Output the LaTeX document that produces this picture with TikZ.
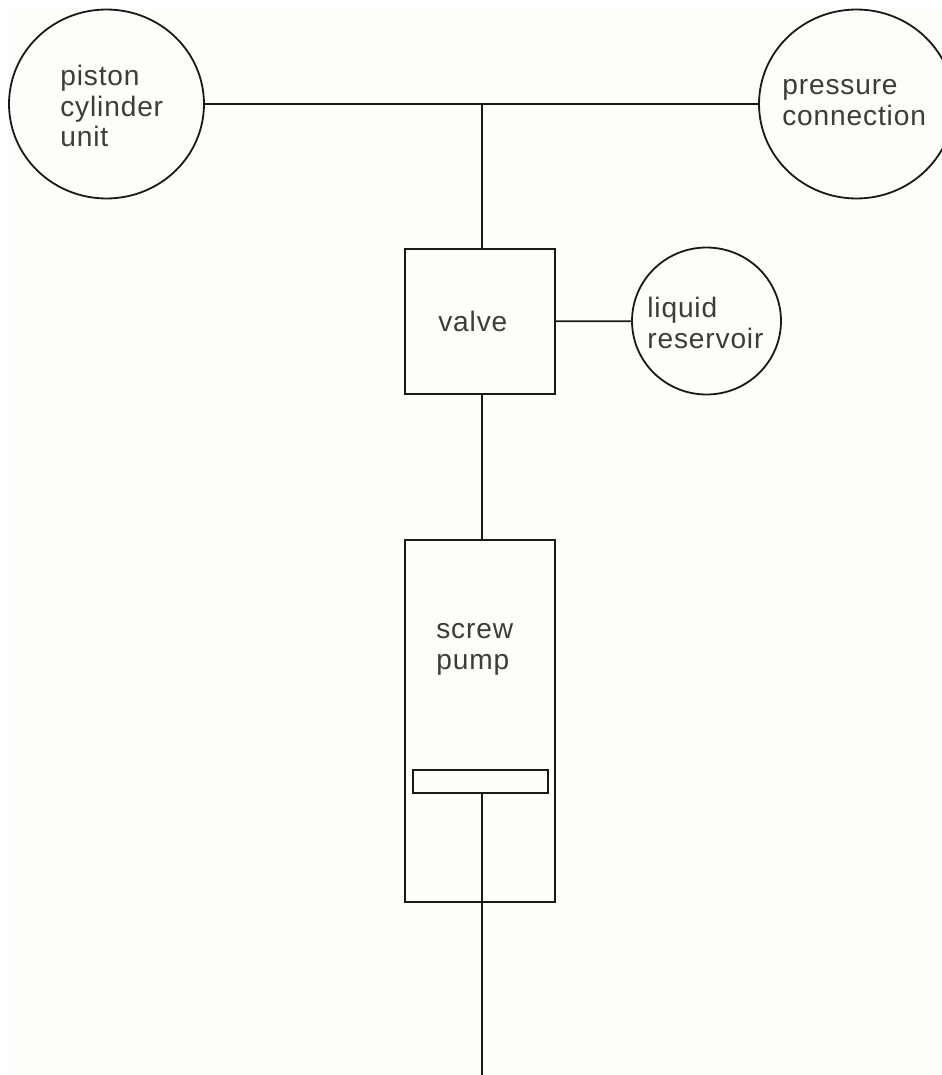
\documentclass[tikz,border=0pt]{standalone}
\usepackage{fontspec}
\setmainfont[LetterSpace=3]{Liberation Sans}
\usepackage{xcolor}
\usetikzlibrary{positioning, calc, shapes.geometric}
\definecolor{paperwhite}{RGB}{253, 253, 251}
\definecolor{cadblack}{RGB}{25, 25, 25}
\definecolor{cadtext}{RGB}{60, 60, 60}
\tikzset{
    unit/.style={draw=cadblack, line width=0.036cm, ellipse, inner sep=0pt},
    block/.style={draw=cadblack, line width=0.036cm, inner sep=0pt},
    tag/.style={anchor=west, inner sep=0pt, text=cadtext, align=left, font=\fontsize{16}{17.6}\selectfont},
    pipe/.style={draw=cadblack, line width=0.036cm}
}
\begin{document}
\begin{tikzpicture}[x=0.02cm, y=-0.02cm]
    % Page
    \fill[white] (0,0) rectangle (942,1075);
    \fill[paperwhite] (9,10) rectangle (942,1075);
    \useasboundingbox (0,0) rectangle (942,1075);
    
    % Circles
    \node[unit, minimum width=3.9cm, minimum height=3.78cm] (piston) at (106.5,104) {};
    \node[unit, minimum width=3.9cm, minimum height=3.78cm] (pressure) at (856.5,104) {};
    \node[unit, minimum width=2.98cm, minimum height=2.94cm] (reservoir) at (706.5,321) {};
    
    % Boxes
    \node[block, minimum width=3cm, minimum height=2.9cm] (valve) at (480,321.5) {};
    \node[block, minimum width=3cm, minimum height=7.24cm, anchor=north] (pump) at (480,539) {};
    \node[block, minimum width=2.7cm, minimum height=0.46cm] (plunger) at (480.5,781.5) {};
    
    % Labels
    \node[tag] (pistonlabel) at (60,106) {piston\\cylinder\\unit};
    \node[tag] (pressurelabel) at (782,103) {pressure\\connection};
    \node[tag] (reservoirlabel) at (647,322.5) {liquid\\reservoir};
    \node[tag] (valvelabel) at (438,321) {valve};
    \node[tag] (pumplabel) at (436,649) {screw\\pump};
    
    % Pipes
    \coordinate (tee) at (482,104);
    \coordinate (shaftend) at (482,1075);
    \draw[pipe] (piston) -- (pressure);
    \draw[pipe] (tee) -- (tee |- valve.north);
    \draw[pipe] (valve) -- (reservoir);
    \draw[pipe] (tee |- valve.south) -- (tee |- pump.north);
    \draw[pipe] (tee |- plunger.south) -- (shaftend);
\end{tikzpicture}
\end{document}
